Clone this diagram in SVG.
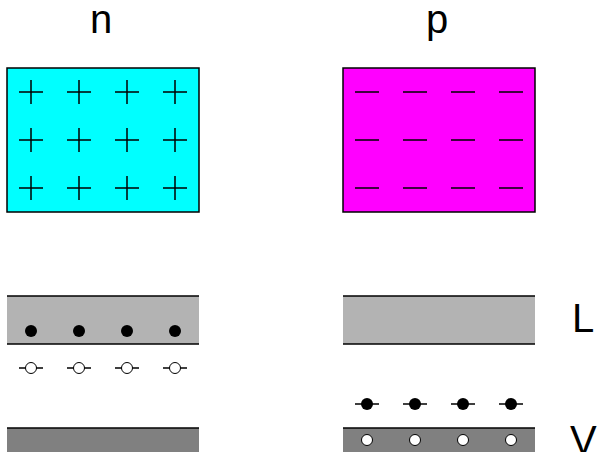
<svg xmlns="http://www.w3.org/2000/svg" width="597" height="452" viewBox="0 0 597 452">
<style>
.lbl{font-family:"Liberation Sans",Arial,sans-serif;font-size:40px;fill:#000}
.mk{stroke:#000;stroke-width:1.5;fill:none}
.e{fill:#000}
.h{fill:#fff;stroke:#000;stroke-width:1}
.edge{stroke:#000;stroke-width:1.5}
</style>
<defs>
<path id="plus" class="mk" d="M-12 0H12M0 -12V12"/>
<path id="minus" class="mk" d="M-12 0H12"/>
</defs>
<rect width="597" height="452" fill="#fff"/>
<g id="label-n"><text class="lbl" x="101" y="33" text-anchor="middle">n</text></g>
<g id="label-p"><text class="lbl" x="437" y="33" text-anchor="middle">p</text></g>
<g id="n-block">
<rect x="7" y="68" width="192" height="144" fill="#00ffff" stroke="#000" stroke-width="1.5"/>
<use href="#plus" x="31" y="92"/><use href="#plus" x="79" y="92"/><use href="#plus" x="127" y="92"/><use href="#plus" x="175" y="92"/>
<use href="#plus" x="31" y="140"/><use href="#plus" x="79" y="140"/><use href="#plus" x="127" y="140"/><use href="#plus" x="175" y="140"/>
<use href="#plus" x="31" y="188"/><use href="#plus" x="79" y="188"/><use href="#plus" x="127" y="188"/><use href="#plus" x="175" y="188"/>
</g>
<g id="p-block">
<rect x="343" y="68" width="192" height="144" fill="#ff00ff" stroke="#000" stroke-width="1.5"/>
<use href="#minus" x="367" y="92"/><use href="#minus" x="415" y="92"/><use href="#minus" x="463" y="92"/><use href="#minus" x="511" y="92"/>
<use href="#minus" x="367" y="140"/><use href="#minus" x="415" y="140"/><use href="#minus" x="463" y="140"/><use href="#minus" x="511" y="140"/>
<use href="#minus" x="367" y="188"/><use href="#minus" x="415" y="188"/><use href="#minus" x="463" y="188"/><use href="#minus" x="511" y="188"/>
</g>
<g id="n-conduction">
<rect x="7" y="296" width="192" height="48" fill="#b3b3b3"/>
<line class="edge" x1="7" y1="296" x2="199" y2="296"/><line class="edge" x1="7" y1="344" x2="199" y2="344"/>
<circle class="e" cx="31" cy="331" r="6"/><circle class="e" cx="79" cy="331" r="6"/><circle class="e" cx="127" cy="331" r="6"/><circle class="e" cx="175" cy="331" r="6"/>
</g>
<g id="n-holes">
<g class="mk" stroke-width="1"><path d="M19 368H43M67 368H91M115 368H139M163 368H187"/></g>
<circle class="h" cx="31" cy="368" r="5.5"/><circle class="h" cx="79" cy="368" r="5.5"/><circle class="h" cx="127" cy="368" r="5.5"/><circle class="h" cx="175" cy="368" r="5.5"/>
</g>
<g id="n-valence">
<rect x="7" y="428" width="192" height="24" fill="#808080"/>
<line class="edge" x1="7" y1="428" x2="199" y2="428"/>
</g>
<g id="p-conduction">
<rect x="343" y="296" width="192" height="48" fill="#b3b3b3"/>
<line class="edge" x1="343" y1="296" x2="535" y2="296"/><line class="edge" x1="343" y1="344" x2="535" y2="344"/>
</g>
<g id="p-electrons">
<g class="mk" stroke-width="1"><path d="M355 404H379M403 404H427M451 404H475M499 404H523"/></g>
<circle class="e" cx="367" cy="404" r="6"/><circle class="e" cx="415" cy="404" r="6"/><circle class="e" cx="463" cy="404" r="6"/><circle class="e" cx="511" cy="404" r="6"/>
</g>
<g id="p-valence">
<rect x="343" y="428" width="192" height="24" fill="#808080"/>
<line class="edge" x1="343" y1="428" x2="535" y2="428"/>
<circle class="h" cx="367" cy="440" r="5.5"/><circle class="h" cx="415" cy="440" r="5.5"/><circle class="h" cx="463" cy="440" r="5.5"/><circle class="h" cx="511" cy="440" r="5.5"/>
</g>
<g id="label-L"><text class="lbl" x="572" y="332">L</text></g>
<g id="label-V"><text class="lbl" x="570" y="454">V</text></g>
</svg>
